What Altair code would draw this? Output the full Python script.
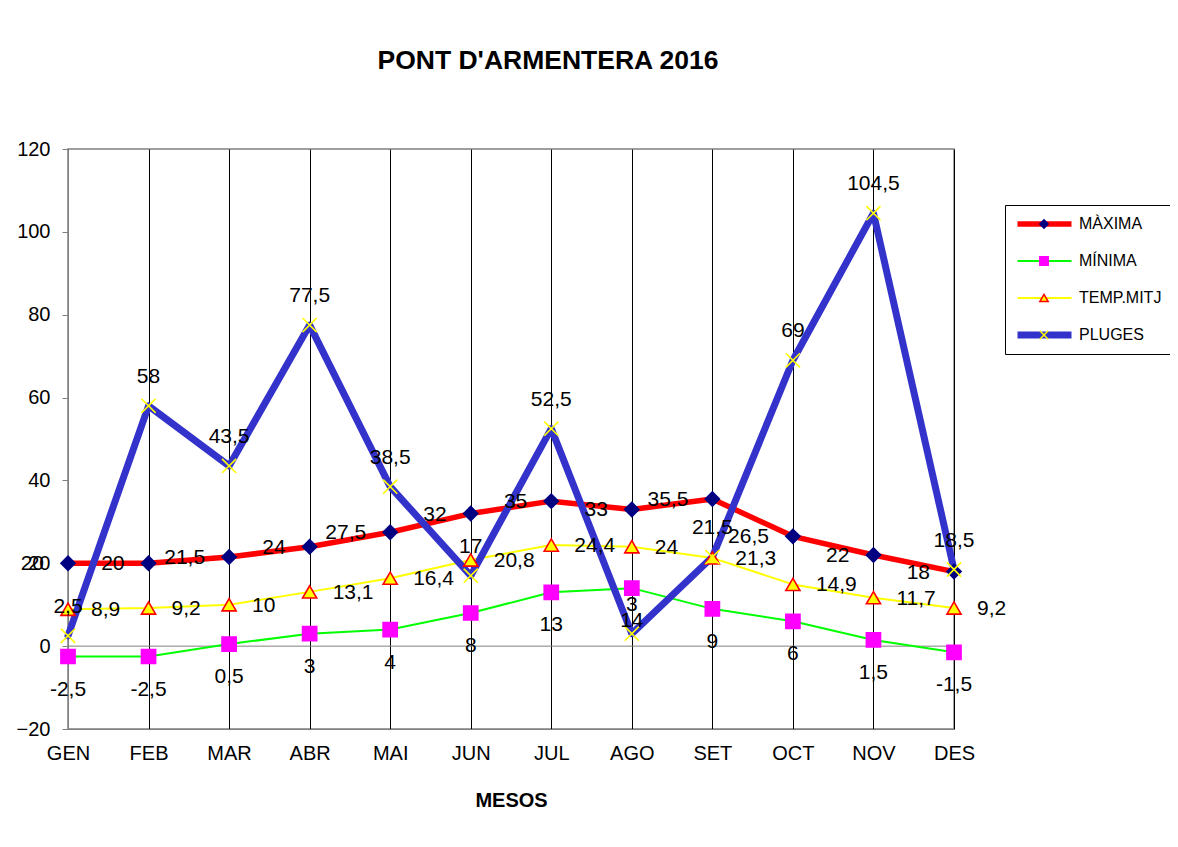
import altair as alt
import pandas as pd

meses = ["GEN", "FEB", "MAR", "ABR", "MAI", "JUN", "JUL", "AGO", "SET", "OCT", "NOV", "DES"]
maxima = [20, 20, 21.5, 24, 27.5, 32, 35, 33, 35.5, 26.5, 22, 18]
minima = [-2.5, -2.5, 0.5, 3, 4, 8, 13, 14, 9, 6, 1.5, -1.5]
temp_mitj = [8.9, 9.2, 10, 13.1, 16.4, 20.8, 24.4, 24, 21.3, 14.9, 11.7, 9.2]
pluges = [2.5, 58, 43.5, 77.5, 38.5, 17, 52.5, 3, 21.5, 69, 104.5, 18.5]

series = ["MÀXIMA", "MÍNIMA", "TEMP.MITJ", "PLUGES"]
series_vals = [maxima, minima, temp_mitj, pluges]
y_ticks = [-20, 0, 20, 40, 60, 80, 100, 120]

line_colors = ["#FF0000", "#00FF00", "#FFFF00", "#3333CC"]
line_widths = [5.5, 2, 2, 7]
marker_shapes = ["diamond", "square", "triangle-up", "M-1,-1L1,1M-1,1L1,-1"]
marker_fills = ["#000080", "#FF00FF", "#FFFF00", "transparent"]
marker_strokes = ["#000080", "#FF00FF", "#FF0000", "#FFFF00"]

# second key for the marker legend (distinct domain so it is not merged)
series_mk = [s + " " for s in series]

def fmt(v):
    return ("%g" % v).replace(".", ",")

rows = []
for name, mk, vals in zip(series, series_mk, series_vals):
    for m, v in zip(meses, vals):
        rows.append({"mes": m, "valor": v, "serie": name, "serie2": mk, "label": fmt(v)})
df = pd.DataFrame(rows)

FONT = "Liberation Sans"

x_enc = alt.X(
    "mes:N", sort=meses,
    scale=alt.Scale(type="point", padding=0, domain=meses),
    axis=alt.Axis(title="MESOS", grid=True, gridColor="#000000", gridWidth=1,
                  ticks=False, domainColor="#808080", labelAngle=0,
                  labelFont=FONT, labelFontSize=20, labelColor="#000000", labelPadding=14,
                  titleFont=FONT, titleFontSize=20, titleFontWeight="bold",
                  titleColor="#000000", titlePadding=27),
)
y_enc = alt.Y(
    "valor:Q",
    scale=alt.Scale(domain=[-20, 120], nice=False, zero=False),
    axis=alt.Axis(title=None, values=y_ticks, grid=False, domainColor="#808080",
                  tickColor="#808080", tickSize=6, labelFont=FONT, labelFontSize=20,
                  labelColor="#000000", labelPadding=12),
)

legend_common = dict(orient="none", title=None, labelFont=FONT, labelFontSize=16,
                     labelColor="#000000", padding=9, clipHeight=20, rowPadding=17,
                     legendY=56)

line_legend = alt.Legend(legendX=937, strokeColor="#000000", symbolType="stroke",
                         symbolSize=2916, **legend_common)
mk_legend = alt.Legend(legendX=959, symbolSize=70, labelExpr="''", **legend_common)

base = alt.Chart(df)

lines = base.mark_line(strokeCap="round", strokeJoin="round").encode(
    x=x_enc, y=y_enc,
    color=alt.Color("serie:N", scale=alt.Scale(domain=series, range=line_colors),
                    legend=line_legend),
    strokeWidth=alt.StrokeWidth("serie:N",
                                scale=alt.Scale(type="ordinal", domain=series, range=line_widths),
                                legend=line_legend),
)

points = base.mark_point(size=200, strokeWidth=1.6, opacity=1).encode(
    x=x_enc, y=y_enc,
    shape=alt.Shape("serie2:N", scale=alt.Scale(domain=series_mk, range=marker_shapes),
                    legend=mk_legend),
    fill=alt.Fill("serie2:N", scale=alt.Scale(domain=series_mk, range=marker_fills),
                  legend=mk_legend),
    stroke=alt.Stroke("serie2:N", scale=alt.Scale(domain=series_mk, range=marker_strokes),
                      legend=mk_legend),
)

def labels(name, **kw):
    return base.transform_filter(alt.datum.serie == name).mark_text(
        font=FONT, fontSize=21, color="#000000", baseline="middle", **kw
    ).encode(x=x_enc, y=y_enc, text="label:N")

lab_max = labels("MÀXIMA", align="right", dx=-24, dy=1)
lab_min = labels("MÍNIMA", align="center", dy=33)
lab_temp = labels("TEMP.MITJ", align="left", dx=23, dy=1)
lab_plu = labels("PLUGES", align="center", dy=-29)

zero = alt.Chart(pd.DataFrame({"valor": [0]})).mark_rule(color="#808080", strokeWidth=1).encode(
    y=alt.Y("valor:Q")
)

chart = alt.layer(zero, lines, points, lab_max, lab_min, lab_temp, lab_plu).properties(
    width=886, height=580,
    title=alt.TitleParams("PONT D'ARMENTERA 2016", font=FONT, fontSize=26.5, fontWeight="bold",
                          color="#000000", anchor="middle", frame="group", dx=37, offset=38,
                          baseline="bottom"),
    padding={"left": 60, "top": 141, "right": 216, "bottom": 90},
    autosize=alt.AutoSizeParams(type="none"),
    background="#FFFFFF",
).configure_view(stroke="#808080", strokeWidth=1.5)

chart.save("out.html", embed_options={"renderer": "svg", "actions": False})
